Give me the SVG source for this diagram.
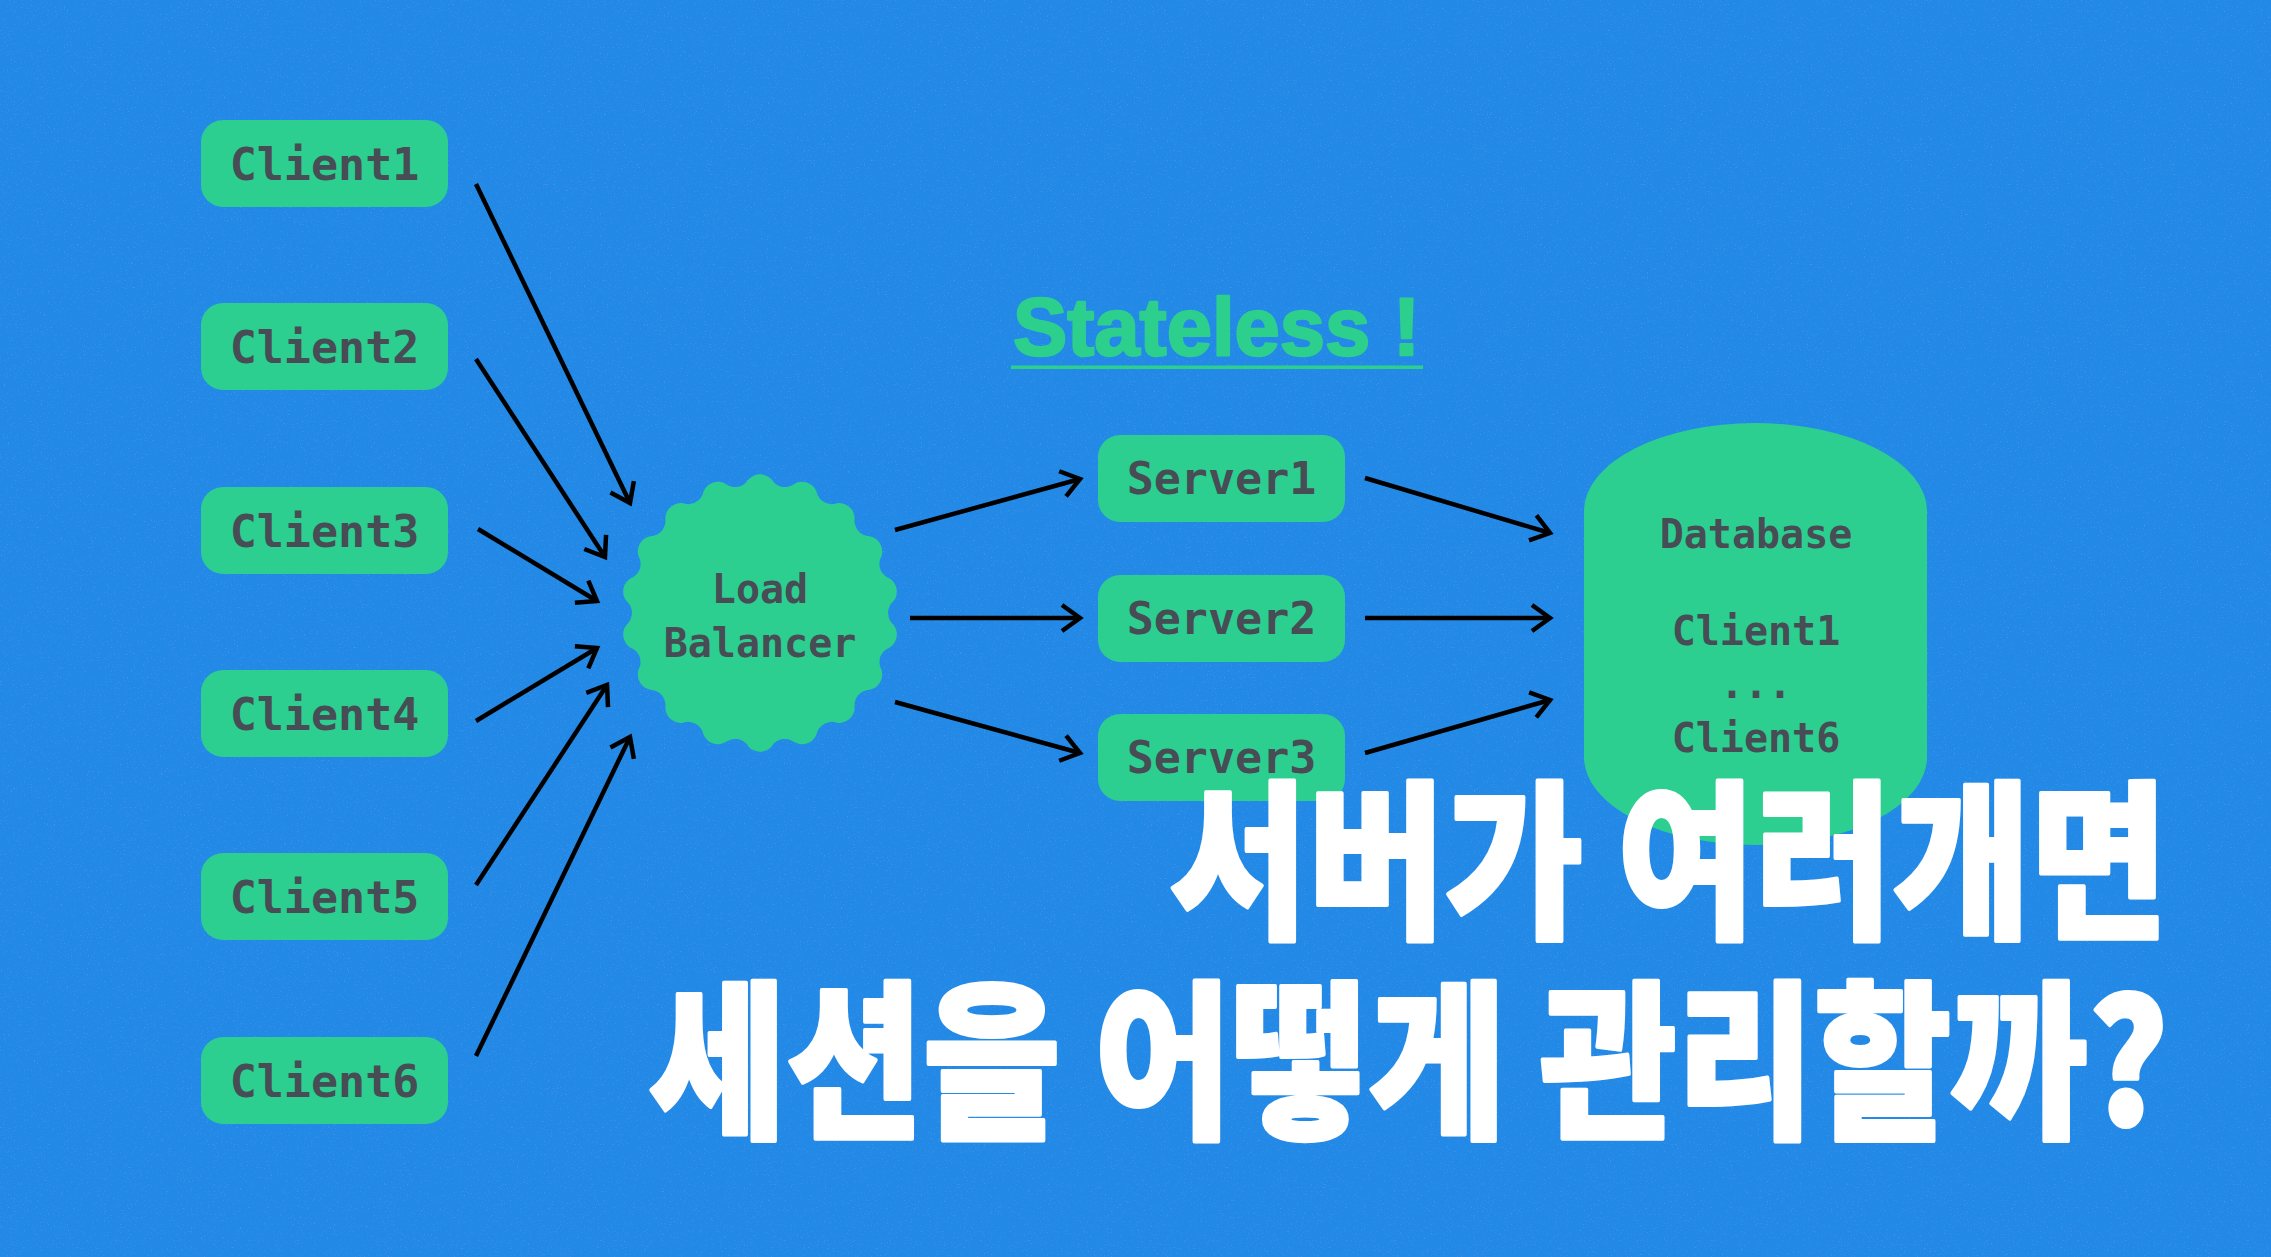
<svg xmlns="http://www.w3.org/2000/svg" width="2271" height="1257" viewBox="0 0 2271 1257">
<style>
.box{fill:#2ccf8f}
.mono{font-family:"DejaVu Sans Mono","Liberation Mono",monospace;font-weight:bold;fill:#474c55;text-anchor:middle}
.lbl{font-size:45px}
.sm{font-size:40px}
.conn line{stroke:#000;stroke-width:4.5;fill:none;marker-end:url(#ah)}
.title{font-family:"Noto Sans CJK KR","Noto Sans CJK SC",sans-serif;font-weight:900;font-size:170px;fill:#fff;stroke:#fff;stroke-width:4;stroke-linejoin:round}
</style>
<defs>
<marker id="ah" markerUnits="userSpaceOnUse" markerWidth="30" markerHeight="30" viewBox="0 0 30 30" refX="26" refY="15" orient="auto">
<path d="M8,2 L26,15 L8,28" fill="none" stroke="#000" stroke-width="4.5"/>
</marker>
<filter id="noise" x="0" y="0" width="100%" height="100%">
<feTurbulence type="fractalNoise" baseFrequency="0.7" numOctaves="2" seed="7"/>
<feColorMatrix type="matrix" values="0 0 0 0 0.08  0 0 0 0 0.3  0 0 0 0 0.8  5 0 0 0 -3.1"/>
</filter>
</defs>
<rect width="2271" height="1257" fill="#2289e6"/>
<rect width="2271" height="1257" filter="url(#noise)" opacity="0.8"/>

<g id="client1"><rect class="box" x="201" y="120" width="247" height="87" rx="22"/><text class="mono lbl" x="324.5" y="180">Client1</text></g>
<g id="client2"><rect class="box" x="201" y="303" width="247" height="87" rx="22"/><text class="mono lbl" x="324.5" y="363">Client2</text></g>
<g id="client3"><rect class="box" x="201" y="487" width="247" height="87" rx="22"/><text class="mono lbl" x="324.5" y="547">Client3</text></g>
<g id="client4"><rect class="box" x="201" y="670" width="247" height="87" rx="22"/><text class="mono lbl" x="324.5" y="730">Client4</text></g>
<g id="client5"><rect class="box" x="201" y="853" width="247" height="87" rx="22"/><text class="mono lbl" x="324.5" y="913">Client5</text></g>
<g id="client6"><rect class="box" x="201" y="1037" width="247" height="87" rx="22"/><text class="mono lbl" x="324.5" y="1097">Client6</text></g>

<g id="loadbalancer">
<path class="box" transform="translate(760,613) scale(1.03) translate(-760,-613)" d="M889.5,601.67 A15,15 0 0 0 889.5,624.33 A15,15 0 0 1 885.57,646.65 A15,15 0 0 0 877.82,667.94 A15,15 0 0 1 866.49,687.57 A15,15 0 0 0 851.92,704.92 A15,15 0 0 1 834.57,719.49 A15,15 0 0 0 814.94,730.82 A15,15 0 0 1 793.65,738.57 A15,15 0 0 0 771.33,742.5 A15,15 0 0 1 748.67,742.5 A15,15 0 0 0 726.35,738.57 A15,15 0 0 1 705.06,730.82 A15,15 0 0 0 685.43,719.49 A15,15 0 0 1 668.08,704.92 A15,15 0 0 0 653.51,687.57 A15,15 0 0 1 642.18,667.94 A15,15 0 0 0 634.43,646.65 A15,15 0 0 1 630.5,624.33 A15,15 0 0 0 630.5,601.67 A15,15 0 0 1 634.43,579.35 A15,15 0 0 0 642.18,558.06 A15,15 0 0 1 653.51,538.43 A15,15 0 0 0 668.08,521.08 A15,15 0 0 1 685.43,506.51 A15,15 0 0 0 705.06,495.18 A15,15 0 0 1 726.35,487.43 A15,15 0 0 0 748.67,483.5 A15,15 0 0 1 771.33,483.5 A15,15 0 0 0 793.65,487.43 A15,15 0 0 1 814.94,495.18 A15,15 0 0 0 834.57,506.51 A15,15 0 0 1 851.92,521.08 A15,15 0 0 0 866.49,538.43 A15,15 0 0 1 877.82,558.06 A15,15 0 0 0 885.57,579.35 A15,15 0 0 1 889.5,601.67 Z"/>
<text class="mono sm" x="760" y="603">Load</text>
<text class="mono sm" x="760" y="657">Balancer</text>
</g>

<g id="stateless">
<text x="1013" y="355" font-family="Liberation Sans, Arial, sans-serif" font-weight="bold" font-size="82" fill="#2dcf8d" stroke="#2dcf8d" stroke-width="2.5" stroke-linejoin="round" textLength="407" lengthAdjust="spacingAndGlyphs">Stateless !</text>
<rect x="1011" y="365.5" width="412" height="3.5" fill="#2dcf8d"/>
</g>

<g id="server1"><rect class="box" x="1098" y="435" width="247" height="87" rx="22"/><text class="mono lbl" x="1221.5" y="494">Server1</text></g>
<g id="server2"><rect class="box" x="1098" y="575" width="247" height="87" rx="22"/><text class="mono lbl" x="1221.5" y="634">Server2</text></g>
<g id="server3"><rect class="box" x="1098" y="714" width="247" height="87" rx="22"/><text class="mono lbl" x="1221.5" y="773">Server3</text></g>

<g id="database">
<rect class="box" x="1584" y="423" width="343" height="422" rx="171.5" ry="88"/>
<text class="mono sm" x="1756" y="548">Database</text>
<text class="mono sm" x="1756" y="645">Client1</text>
<text class="mono sm" x="1756" y="698">...</text>
<text class="mono sm" x="1756" y="752">Client6</text>
</g>

<g class="conn" id="connectors">
<line x1="476" y1="184" x2="630" y2="503"/>
<line x1="476" y1="359" x2="605" y2="557"/>
<line x1="478" y1="529" x2="597" y2="601"/>
<line x1="476" y1="721" x2="597" y2="648"/>
<line x1="476" y1="885" x2="607" y2="685"/>
<line x1="476" y1="1056" x2="630" y2="737"/>
<line x1="895" y1="530" x2="1080" y2="479"/>
<line x1="910" y1="618" x2="1080" y2="618"/>
<line x1="895" y1="702" x2="1080" y2="753"/>
<line x1="1365" y1="478" x2="1550" y2="533"/>
<line x1="1365" y1="618" x2="1550" y2="618"/>
<line x1="1365" y1="753" x2="1550" y2="700"/>
</g>

<g id="title">
<text class="title" x="1170" y="925" textLength="998" lengthAdjust="spacingAndGlyphs">서버가 여러개면</text>
<text class="title" x="649" y="1125" textLength="1519" lengthAdjust="spacingAndGlyphs">세션을 어떻게 관리할까?</text>
</g>
</svg>
